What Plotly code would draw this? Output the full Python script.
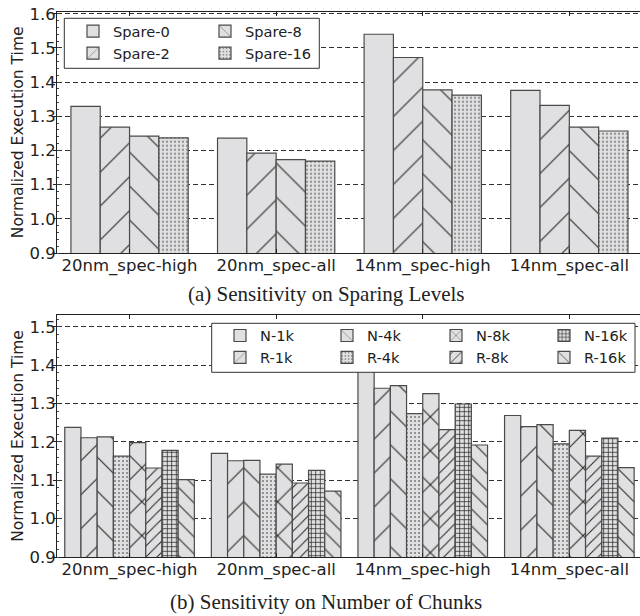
import plotly.graph_objects as go

categories = ["20nm_spec-high", "20nm_spec-all", "14nm_spec-high", "14nm_spec-all"]

spare_names = ["Spare-0", "Spare-2", "Spare-8", "Spare-16"]
spare_0 = [1.329, 1.236, 1.540, 1.376]
spare_2 = [1.268, 1.192, 1.472, 1.332]
spare_8 = [1.242, 1.173, 1.377, 1.268]
spare_16 = [1.237, 1.169, 1.362, 1.257]
spare_values = [spare_0, spare_2, spare_8, spare_16]

chunk_names = ["N-1k", "R-1k", "N-4k", "R-4k", "N-8k", "R-8k", "N-16k", "R-16k"]
n_1k = [1.238, 1.170, 1.390, 1.269]
r_1k = [1.211, 1.151, 1.340, 1.240]
n_4k = [1.213, 1.152, 1.347, 1.245]
r_4k = [1.163, 1.116, 1.274, 1.195]
n_8k = [1.198, 1.142, 1.326, 1.230]
r_8k = [1.132, 1.093, 1.232, 1.163]
n_16k = [1.178, 1.126, 1.299, 1.210]
r_16k = [1.102, 1.072, 1.192, 1.133]
chunk_values = [n_1k, r_1k, n_4k, r_4k, n_8k, r_8k, n_16k, r_16k]

top_ticks = [0.9, 1.0, 1.1, 1.2, 1.3, 1.4, 1.5, 1.6]
bottom_ticks = [0.9, 1.0, 1.1, 1.2, 1.3, 1.4, 1.5]

W, H = 640, 616
ML = 57
PW = W - ML
FILL = "#e0e0e2"
EDGE = "#4a4a4a"
HATCH = "#252525"
TXT = "#222222"

def pat(shape, size, solidity):
    if shape == "":
        return dict(shape="")
    return dict(shape=shape, size=size, solidity=solidity, fgcolor=HATCH,
                bgcolor=FILL, fillmode="replace")

spare_patterns = [pat("", 0, 0), pat("/", 24, 0.045), pat("\\", 24, 0.045), pat(".", 4, 0.12)]
chunk_patterns = [pat("", 0, 0), pat("/", 24, 0.045), pat("\\", 24, 0.045), pat(".", 4, 0.12),
                  pat("x", 24, 0.085), pat("/", 7.8, 0.13), pat("+", 4.5, 0.3), pat("\\", 12, 0.085)]

fig = go.Figure()

top_group = 0.8
top_w = top_group / len(spare_names)
spare_legends = ["legend", "legend", "legend2", "legend2"]
for i, (name, vals, p, lg) in enumerate(zip(spare_names, spare_values, spare_patterns, spare_legends)):
    fig.add_trace(go.Bar(x=categories, y=vals, name=name, xaxis="x", yaxis="y",
                         width=top_w, offset=-top_group / 2 + i * top_w,
                         marker=dict(color=FILL, pattern=p, line=dict(color=EDGE, width=1.2)),
                         legend=lg))

bot_group = 0.884
bot_w = bot_group / len(chunk_names)
chunk_legends = ["legend3", "legend3", "legend4", "legend4", "legend5", "legend5", "legend6", "legend6"]
for i, (name, vals, p, lg) in enumerate(zip(chunk_names, chunk_values, chunk_patterns, chunk_legends)):
    fig.add_trace(go.Bar(x=categories, y=vals, name=name, xaxis="x2", yaxis="y2",
                         width=bot_w, offset=-bot_group / 2 + i * bot_w,
                         marker=dict(color=FILL, pattern=p, line=dict(color=EDGE, width=1.2)),
                         legend=lg))

# helpers converting page pixels to paper coords
def py(px):
    return 1 - px / H

def ppx(px):
    return (px - ML) / PW

axis_font = dict(family="DejaVu Sans", size=16.5, color=TXT)
title_font = dict(family="DejaVu Sans", size=15.5, color=TXT)
xcommon = dict(type="category", range=[-0.495, 3.482], showline=True, linecolor="#222",
               linewidth=1, mirror="ticks", ticks="inside", ticklen=4, tickcolor="#222",
               showgrid=False, tickfont=axis_font, zeroline=False, automargin=False,
               ticklabelstandoff=-3)
ycommon = dict(showline=True, linecolor="#222", linewidth=1, ticks="outside", ticklen=3,
               tickcolor="#222", showgrid=True, gridcolor="#333", griddash="5px,3px",
               gridwidth=1, tickfont=axis_font, tickformat=".1f", zeroline=False, automargin=False,
               ticklabelstandoff=-6, ticklabeloverflow="allow",
               title=dict(text="Normalized Execution Time", font=title_font, standoff=2),
               minor=dict(ticks="inside", ticklen=2, dtick=0.02, tickcolor="#444", showgrid=False))

legend_common = dict(bgcolor="rgba(0,0,0,0)", borderwidth=0, font=dict(family="DejaVu Sans", size=14.6, color=TXT),
                     xanchor="left", yanchor="top", orientation="v", tracegroupgap=0, itemclick=False)

fig.update_layout(
    width=W, height=H, margin=dict(l=ML, r=0, t=0, b=0, autoexpand=False),
    paper_bgcolor="white", plot_bgcolor="white",
    barmode="group", bargroupgap=0,
    xaxis=dict(domain=[0, 1], anchor="y", **xcommon),
    yaxis=dict(domain=[py(253), py(11.7)], anchor="x", range=[0.9, 1.606], tickvals=top_ticks, **ycommon),
    xaxis2=dict(domain=[0, 1], anchor="y2", **xcommon),
    yaxis2=dict(domain=[py(557), py(315)], anchor="x2", range=[0.9, 1.531], tickvals=bottom_ticks, **ycommon),
    legend=dict(x=ppx(73), y=py(15.2), **legend_common),
    legend2=dict(x=ppx(205), y=py(15.2), **legend_common),
    legend3=dict(x=ppx(220), y=py(319.5), **legend_common),
    legend4=dict(x=ppx(327), y=py(319.5), **legend_common),
    legend5=dict(x=ppx(436), y=py(319.5), **legend_common),
    legend6=dict(x=ppx(544), y=py(319.5), **legend_common),
    shapes=[
        dict(type="rect", xref="paper", yref="paper", x0=ppx(64.3), x1=ppx(319.3), y0=py(68.3), y1=py(18.3),
             fillcolor="white", line=dict(color="#333", width=1), layer="above"),
        dict(type="rect", xref="paper", yref="paper", x0=ppx(211.7), x1=ppx(635), y0=py(372.3), y1=py(323.3),
             fillcolor="white", line=dict(color="#333", width=1), layer="above"),
    ],
    annotations=[
        dict(text="(a) Sensitivity on Sparing Levels", xref="paper", yref="paper", x=ppx(326), y=py(294),
             xanchor="center", yanchor="middle", showarrow=False,
             font=dict(family="Liberation Serif", size=21, color=TXT)),
        dict(text="(b) Sensitivity on Number of Chunks", xref="paper", yref="paper", x=ppx(326), y=py(602),
             xanchor="center", yanchor="middle", showarrow=False,
             font=dict(family="Liberation Serif", size=21, color=TXT)),
    ],
)

fig.write_html("out.html", config={"displayModeBar": False},
               post_script="document.body.style.margin='0px';")
